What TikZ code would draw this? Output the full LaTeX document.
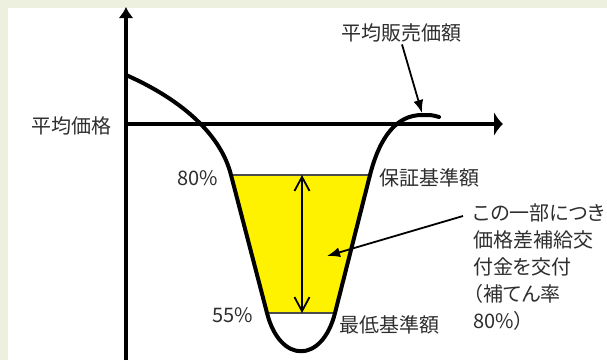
\documentclass[tikz,border=0pt]{standalone}
\usepackage{fontspec}
\setmainfont{Noto Sans CJK JP}[RawFeature=+palt]
\usetikzlibrary{arrows.meta}
\definecolor{bgband}{HTML}{EDF0DF}
\definecolor{txtgray}{HTML}{2E2E2E}
\tikzset{
    lbl/.style={font=\fontsize{20pt}{27pt}\selectfont, text=txtgray, inner sep=0pt},
    axis/.style={line width=4.5pt},
    price/.style={line width=4pt, line cap=round, line join=round},
    level/.style={line width=1.6pt, draw=black!70},
    pointer/.style={line width=1.8pt, -{Latex[length=13pt,width=10pt]}}
}
\begin{document}
\begin{tikzpicture}[x=1pt, y=-1pt]
    \useasboundingbox (0,0) rectangle (607,360);
    \fill[bgband] (0,0) rectangle (607,360);
    \fill[white] (8,7.5) rectangle (607,360);

    \coordinate (O) at (126,124);
    \coordinate (Ytop) at (126,7);
    \coordinate (Ybot) at (126,360);
    \coordinate (Xend) at (503,124);
    \coordinate (G1) at (231,175);
    \coordinate (G2) at (370,175);
    \coordinate (M1) at (267,313);
    \coordinate (M2) at (335,313);
    \coordinate (Gmid) at (302,175);
    \coordinate (Mmid) at (302,313);
    \coordinate (bump) at (422,113);
    \coordinate (calloutstart) at (463,216);
    \coordinate (calloutend) at (327,256);

    % band between the two levels
    \fill[yellow] (G1) -- (G2) -- (M2) -- (M1) -- cycle;
    \draw[level] (G1) -- (G2);
    \draw[level] (M1) -- (M2);

    % axes
    \draw[axis, -{Latex[length=11pt,width=15pt]}] (Ybot) -- (Ytop);
    \draw[axis, -{Latex[length=9pt,width=25pt]}] (O) -- (Xend);

    % price curve
    \draw[price] (126,75) .. controls (176,97) and (220,131) .. (G1)
        -- (M1) .. controls (280,364) and (322,364) .. (M2)
        -- (G2) .. controls (380,136) and (397,115) .. (422,115)
        .. controls (432,115) .. (439,117);

    \draw[line width=1.8pt, {Straight Barb[length=14pt,width=15pt]}-{Straight Barb[length=14pt,width=15pt]}] (Gmid) -- (Mmid);

    \node[lbl, anchor=east] (avgprice) at (112,126) {平均価格};
    \node[lbl] (salesprice) at (401,33) {平均販売価額};
    \node[lbl, anchor=east] (pct80) at (218,178) {80\%};
    \node[lbl, anchor=east] (pct55) at (253,315) {55\%};
    \node[lbl, anchor=west] (guarantee) at (379,178) {保証基準額};
    \node[lbl, anchor=west] (minimum) at (339,325) {最低基準額};
    \node[lbl, anchor=west, align=left] (subsidy) at (473,267)
        {この一部につき\\価格差補給交\\付金を交付\\（補てん率\\80\%）};

    \draw[pointer] (salesprice.south) ++(1pt,-2pt) -- (bump);
    \draw[pointer] (calloutstart) -- (calloutend);
\end{tikzpicture}
\end{document}
